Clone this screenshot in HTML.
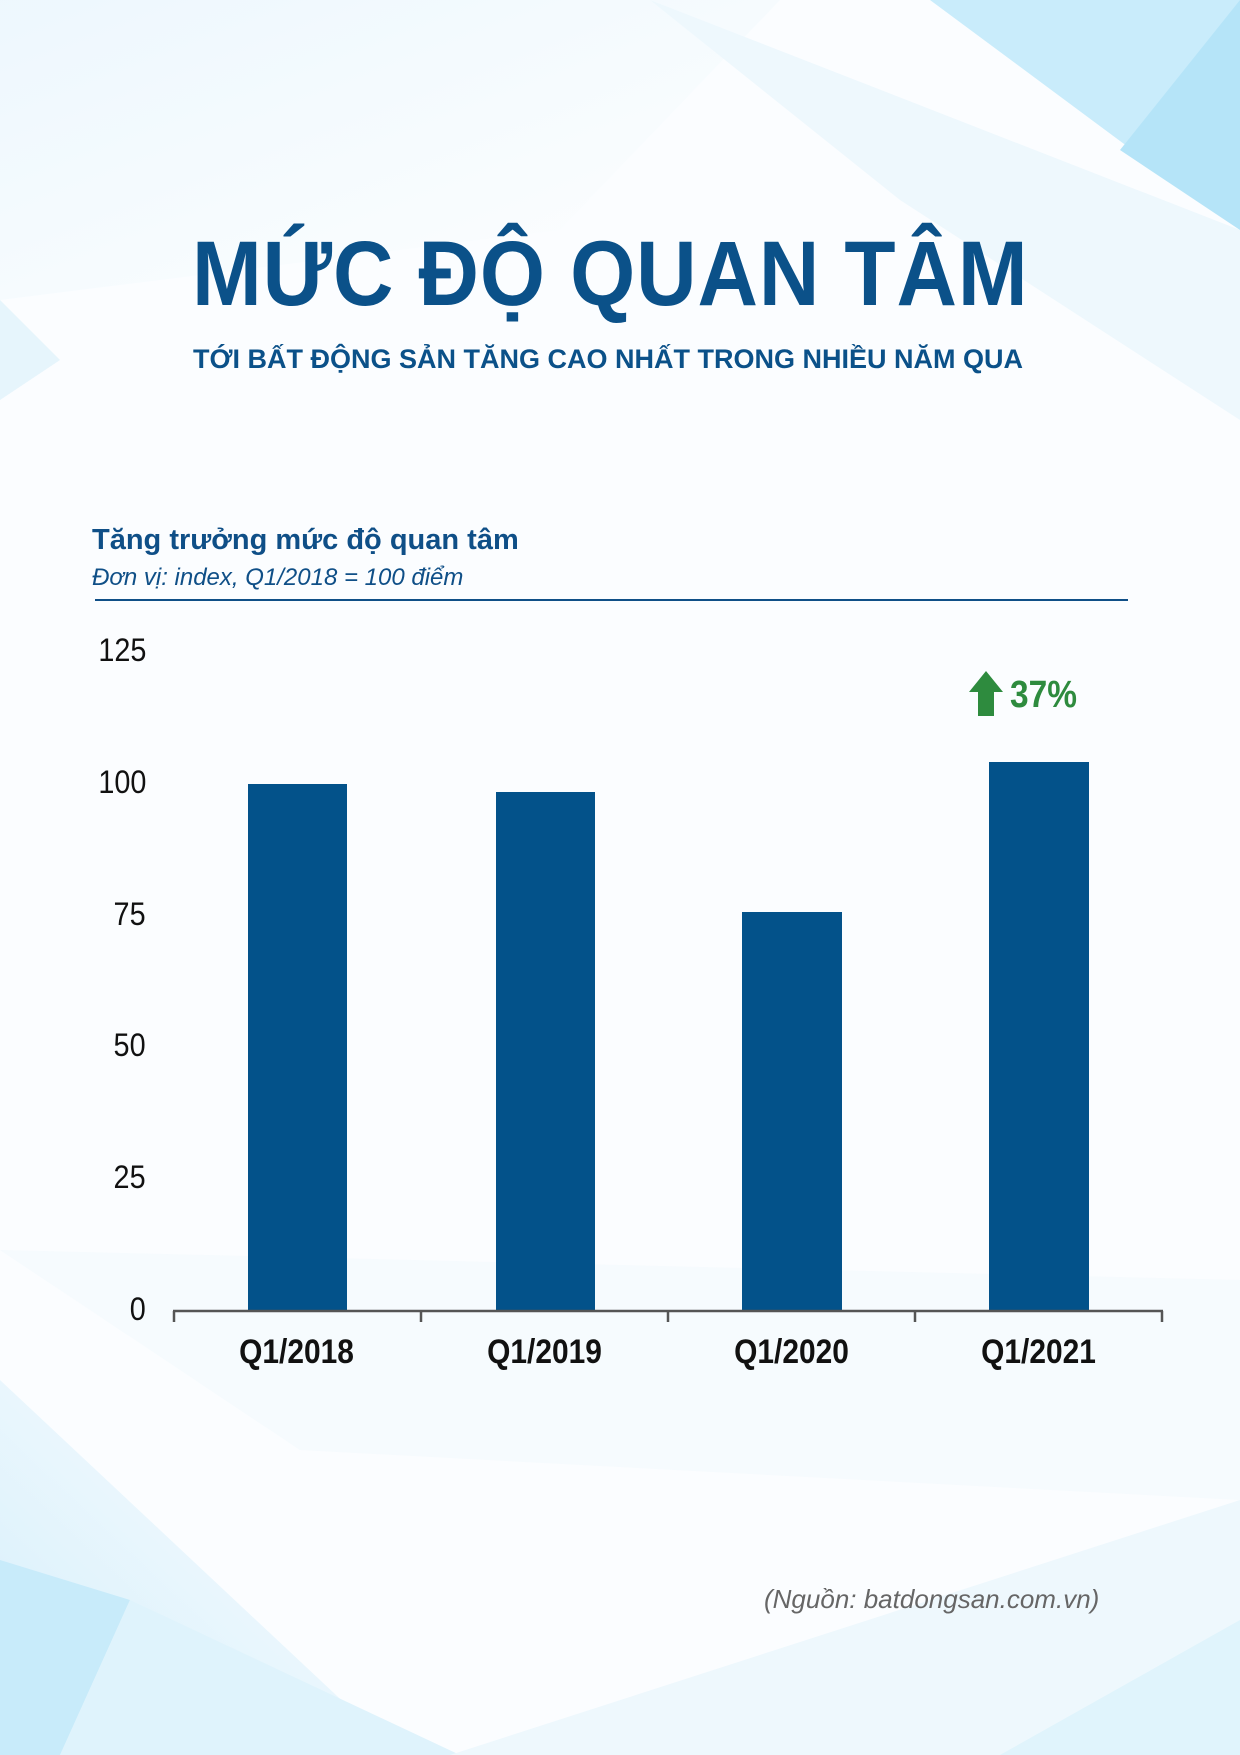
<!DOCTYPE html>
<html><head><meta charset="utf-8"><style>
body{margin:0;width:1240px;height:1755px;position:relative;overflow:hidden;background:#fff;font-family:"Liberation Sans",sans-serif}
svg{position:absolute;left:0;top:0}
.t{position:absolute;white-space:nowrap}
.yl{position:absolute;right:0;transform:scaleX(0.9);transform-origin:right center}
.xl{position:absolute;top:1333px;width:247px;text-align:center;font-size:34px;font-weight:bold;color:#111;transform:scaleX(0.88)}
</style></head><body>
<svg width="1240" height="1755">
<defs>
<linearGradient id="g1" x1="0" y1="0" x2="1" y2="1"><stop offset="0" stop-color="#eaf6fd"/><stop offset="1" stop-color="#ffffff"/></linearGradient>
<linearGradient id="g2" x1="0" y1="1" x2="1" y2="0"><stop offset="0" stop-color="#d4eefb"/><stop offset="1" stop-color="#ffffff"/></linearGradient>
</defs>
<rect width="1240" height="1755" fill="#fbfdff"/>
<polygon points="0,0 780,0 560,230 0,300" fill="url(#g1)" opacity="0.8"/>
<polygon points="930,0 1240,0 1240,230" fill="#c9ecfb"/>
<polygon points="1120,150 1240,0 1240,230" fill="#b5e4f8"/>
<polygon points="650,0 1240,230 1240,420 900,200" fill="#eef8fd"/>
<polygon points="0,300 0,400 60,360" fill="#e6f5fc"/>
<polygon points="0,1380 400,1755 0,1755" fill="url(#g2)"/>
<polygon points="0,1560 130,1600 60,1755 0,1755" fill="#c8ebfa"/>
<polygon points="130,1600 460,1755 60,1755" fill="#dff3fc"/>
<polygon points="450,1755 1240,1500 1240,1755" fill="#eef8fd"/>
<polygon points="1000,1755 1240,1620 1240,1755" fill="#e0f4fc"/>
<polygon points="0,1250 1240,1280 1240,1500 300,1450" fill="#f4fafe" opacity="0.7"/>
<line x1="95" y1="600" x2="1128" y2="600" stroke="#0f4f87" stroke-width="2"/>
<g fill="#03528a">
<rect x="248" y="784" width="99" height="527"/>
<rect x="496" y="792" width="99" height="519"/>
<rect x="742" y="912" width="100" height="399"/>
<rect x="989" y="762" width="100" height="549"/>
</g>
<g stroke="#555" stroke-width="2.5" fill="none">
<line x1="173" y1="1311" x2="1163" y2="1311"/>
<line x1="174" y1="1311" x2="174" y2="1322"/>
<line x1="421" y1="1311" x2="421" y2="1322"/>
<line x1="668" y1="1311" x2="668" y2="1322"/>
<line x1="915" y1="1311" x2="915" y2="1322"/>
<line x1="1162" y1="1311" x2="1162" y2="1322"/>
</g>
<polygon points="986,671 1003,692 994,692 994,716 978,716 978,692 969,692" fill="#2e8b3e"/>
</svg>
<div class="t" style="left:192px;top:222px;font-size:92px;font-weight:bold;color:#0b5189;letter-spacing:1px;transform:scaleX(0.91);transform-origin:left center">MỨC ĐỘ QUAN TÂM</div>
<div class="t" style="left:193px;top:344px;font-size:27px;font-weight:bold;color:#0b5189">TỚI BẤT ĐỘNG SẢN TĂNG CAO NHẤT TRONG NHIỀU NĂM QUA</div>
<div class="t" style="left:92px;top:524px;font-size:29px;font-weight:bold;color:#0f4f87">Tăng trưởng mức độ quan tâm</div>
<div class="t" style="left:92px;top:564px;font-size:24px;font-style:italic;color:#0f4f87">Đơn vị: index, Q1/2018 = 100 điểm</div>
<div style="position:absolute;left:60px;width:86px;top:632px;font-size:32px;text-align:right;line-height:36px;color:#111">
<div class="yl" style="top:0">125</div>
<div class="yl" style="top:132px">100</div>
<div class="yl" style="top:264px">75</div>
<div class="yl" style="top:395px">50</div>
<div class="yl" style="top:527px">25</div>
<div class="yl" style="top:659px">0</div>
</div>
<div class="xl" style="left:173px">Q1/2018</div>
<div class="xl" style="left:421px">Q1/2019</div>
<div class="xl" style="left:668px">Q1/2020</div>
<div class="xl" style="left:915px">Q1/2021</div>
<div class="t" style="left:1010px;top:674px;font-size:38px;font-weight:bold;color:#2e8b3e;transform:scaleX(0.88);transform-origin:left center">37%</div>
<div class="t" style="left:764px;top:1584px;font-size:26px;font-style:italic;color:#666">(Nguồn: batdongsan.com.vn)</div>
</body></html>
